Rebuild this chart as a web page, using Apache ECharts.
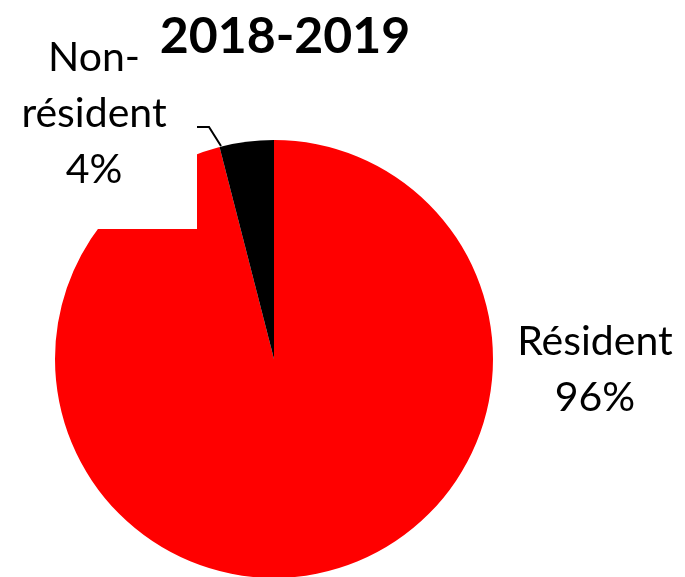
<!DOCTYPE html>
<html>
<head>
<meta charset="utf-8">
<script src="https://cdn.jsdelivr.net/npm/echarts@6/dist/echarts.min.js"></script>
<style>
  html, body { margin: 0; padding: 0; background: #fff; }
  #chart { width: 685px; height: 577px; }
</style>
</head>
<body>
<div id="chart"></div>
<script>
// Residency split of the 2018-2019 cohort
const titleText = '2018-2019';
const categories = ['Résident', 'Non-résident'];
const shares = [96, 4];
const sliceColors = ['#FF0000', '#000000'];

const FONT = 'Lato';

const chart = echarts.init(document.getElementById('chart'), null, { renderer: 'canvas' });

const pieData = categories.map((name, i) => ({
  name: name,
  value: shares[i],
  itemStyle: { color: sliceColors[i] },
  labelLine: { show: i === 1 },
  label: i === 1
    ? { backgroundColor: '#ffffff', padding: [31, 25, 31, 25], width: 156 }
    : {}
}));

chart.setOption({
  animation: false,
  backgroundColor: '#ffffff',
  title: {
    text: titleText,
    left: 280,
    textAlign: 'center',
    top: 7,
    textStyle: { fontFamily: FONT, fontWeight: 'bold', fontSize: 50, color: '#000' }
  },
  series: [{
    type: 'pie',
    center: [274, 359],
    radius: 219,
    startAngle: 90,
    clockwise: true,
    data: pieData,
    label: {
      show: true,
      position: 'outside',
      formatter: p => p.name.replace('Non-', 'Non-\n') + '\n' + p.value + '%',
      fontFamily: FONT,
      fontSize: 41,
      lineHeight: 56,
      color: '#000',
      align: 'center'
    },
    labelLine: {
      show: true,
      lineStyle: { color: '#000', width: 2 }
    },
    labelLayout: function (params) {
      if (params.dataIndex === 1) {
        return {
          x: 94, y: 114, align: 'center', verticalAlign: 'middle',
          labelLinePoints: [[197, 127], [209, 127], [221, 146]]
        };
      }
      return { x: 595, y: 370, align: 'center', verticalAlign: 'middle' };
    },
    emphasis: { disabled: true }
  }]
});
</script>
</body>
</html>
